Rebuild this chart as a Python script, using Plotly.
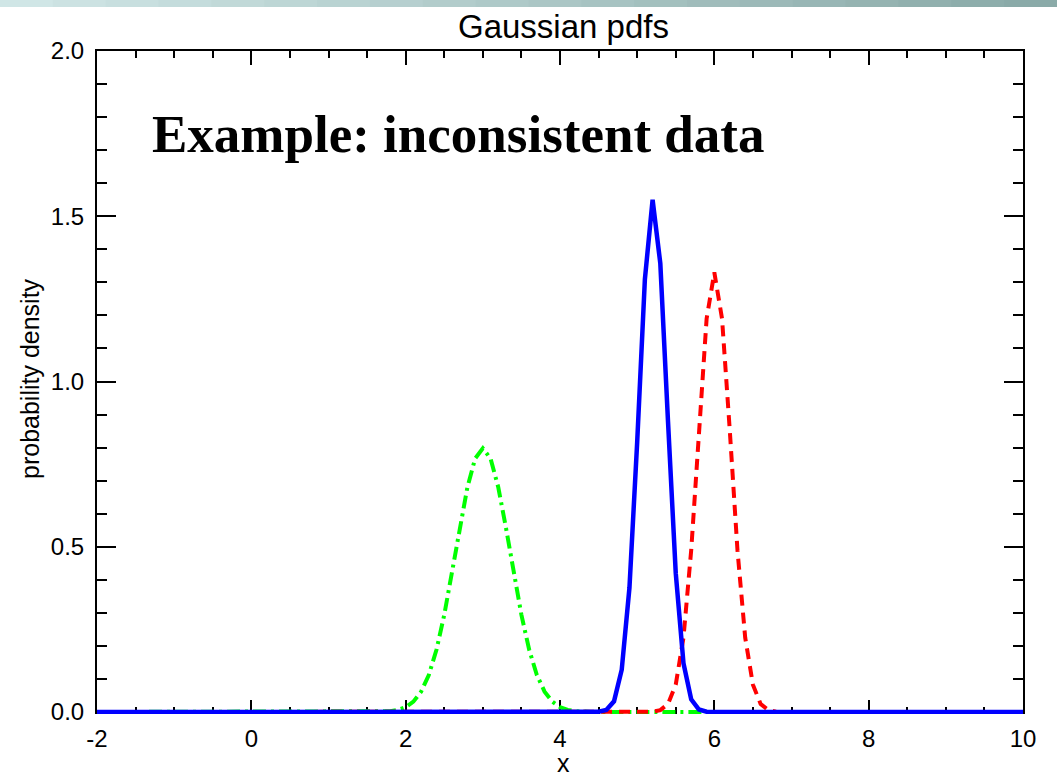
import plotly.graph_objects as go

# ---- data ----
green_x = [-2.0, 1.6, 1.7, 1.8, 1.9, 2.0, 2.1, 2.2, 2.3, 2.4, 2.5, 2.6, 2.7, 2.8, 2.9,
           3.0, 3.1, 3.2, 3.3, 3.4, 3.5, 3.6, 3.7, 3.8, 3.9, 4.0, 4.1, 4.2, 4.3, 4.4, 10.0]
green_y = [0.0, 0.0003, 0.0009, 0.0025, 0.0063, 0.0146, 0.0313, 0.0617, 0.112, 0.189, 0.294,
           0.421, 0.557, 0.680, 0.767, 0.798, 0.767, 0.680, 0.557, 0.421, 0.294, 0.189,
           0.112, 0.0617, 0.0313, 0.0146, 0.0063, 0.0025, 0.0009, 0.0003, 0.0]

red_x = [-2.0, 5.1, 5.2, 5.3, 5.4, 5.5, 5.6, 5.7, 5.8, 5.9, 6.0, 6.1, 6.2, 6.3, 6.4,
         6.5, 6.6, 6.7, 6.8, 6.9, 10.0]
red_y = [0.0, 0.0001, 0.0011, 0.0057, 0.0244, 0.0827, 0.225, 0.489, 0.853, 1.190, 1.330,
         1.190, 0.853, 0.489, 0.225, 0.0827, 0.0244, 0.0057, 0.0011, 0.0001, 0.0]

blue_x = [-2.0, 4.5, 4.6, 4.7, 4.8, 4.9, 5.0, 5.1, 5.2, 5.3, 5.4, 5.5, 5.6, 5.7, 5.8,
          5.9, 6.0, 10.0]
blue_y = [0.0, 0.0008, 0.0060, 0.0322, 0.128, 0.376, 0.816, 1.309, 1.550, 1.357, 0.878,
          0.420, 0.148, 0.0387, 0.0075, 0.0011, 0.0001, 0.0]

x_tick_vals = [-2, 0, 2, 4, 6, 8, 10]
x_tick_text = ["-2", "0", "2", "4", "6", "8", "10"]
y_tick_vals = [0.0, 0.5, 1.0, 1.5, 2.0]
y_tick_text = ["0.0", "0.5", "1.0", "1.5", "2.0"]

title_text = "Gaussian pdfs"
note_text = "Example: inconsistent data"
x_title = "x"
y_title = "probability density"

# ---- figure ----
W, H = 1057, 778
L, R, T, B = 97, 34, 51, 64
pw, ph = W - L - R, H - T - B

def px_x(p):
    return (p - L) / pw

def px_y(p):
    return (H - B - p) / ph

fig = go.Figure()
fig.add_trace(go.Scatter(x=green_x, y=green_y, mode="lines",
                         line=dict(color="#00ff00", width=4, dash="13px,5px,3px,5px")))
fig.add_trace(go.Scatter(x=red_x, y=red_y, mode="lines",
                         line=dict(color="#ff0000", width=4, dash="11px,7px")))
fig.add_trace(go.Scatter(x=blue_x, y=blue_y, mode="lines",
                         line=dict(color="#0000ff", width=4.5)))
# dummy empty trace for the top axis
fig.add_trace(go.Scatter(x=[], y=[], xaxis="x2", showlegend=False))

tick_font = dict(family="Liberation Sans", size=24, color="black")
minor_x = dict(dtick=0.5, ticks="inside", ticklen=7, tickwidth=2,
               tickcolor="black", showgrid=False)

fig.update_layout(
    width=W, height=H, autosize=False,
    margin=dict(l=L, r=R, t=T, b=B, pad=0, autoexpand=False),
    paper_bgcolor="white", plot_bgcolor="white",
    showlegend=False,
    font=dict(family="Liberation Sans", color="black"),
    xaxis=dict(range=[-2, 10], tickmode="array", tickvals=x_tick_vals,
               ticktext=x_tick_text, ticks="inside", ticklen=14,
               tickwidth=2, tickcolor="black", showline=False, showgrid=False,
               zeroline=False, tickfont=tick_font, ticklabelstandoff=8,
               layer="below traces", automargin=False, minor=minor_x),
    xaxis2=dict(range=[-2, 10], overlaying="x", side="top", tickmode="array",
                tickvals=x_tick_vals, ticks="inside", ticklen=14, tickwidth=2,
                tickcolor="black", showline=True, linewidth=2, linecolor="black",
                showgrid=False, zeroline=False, showticklabels=False,
                automargin=False, minor=minor_x),
    yaxis=dict(range=[-0.006, 2.0], tickmode="array", tickvals=y_tick_vals,
               ticktext=y_tick_text, ticks="inside", ticklen=19, tickwidth=2,
               tickcolor="black", showline=True, linewidth=2, linecolor="black",
               mirror="ticks", showgrid=False, zeroline=False, tickfont=tick_font,
               ticklabelstandoff=6, layer="below traces", automargin=False,
               minor=dict(dtick=0.1, ticks="inside", ticklen=10, tickwidth=2,
                          tickcolor="black", showgrid=False)),
)

# top slide gradient strip
c0 = (208, 230, 230)
c1 = (138, 170, 168)
n = 20
shapes = []
for i in range(n):
    f = i / (n - 1)
    col = "rgb(%d,%d,%d)" % tuple(int(a + (b - a) * f) for a, b in zip(c0, c1))
    shapes.append(dict(type="rect", xref="paper", yref="paper",
                       x0=px_x(W * i / n), x1=px_x(W * (i + 1) / n + 1),
                       y0=px_y(7), y1=px_y(0), line=dict(width=0), fillcolor=col))
fig.update_layout(shapes=shapes)

fig.add_annotation(text=title_text, xref="paper", yref="paper",
                   x=px_x(563), y=px_y(27), xanchor="center", yanchor="middle",
                   showarrow=False, font=dict(family="Liberation Sans", size=33, color="black"))
fig.add_annotation(text=note_text, xref="paper", yref="paper",
                   x=px_x(150), y=px_y(134), xanchor="left", yanchor="middle",
                   showarrow=False,
                   font=dict(family="Liberation Serif", size=53, color="black", weight="bold"))
fig.add_annotation(text=x_title, xref="paper", yref="paper",
                   x=px_x(563), y=px_y(763), xanchor="center", yanchor="middle",
                   showarrow=False, font=dict(family="Liberation Sans", size=25, color="black"))
fig.add_annotation(text=y_title, xref="paper", yref="paper",
                   x=px_x(30), y=px_y(379), xanchor="center", yanchor="middle",
                   textangle=-90, showarrow=False,
                   font=dict(family="Liberation Sans", size=25, color="black"))

fig.write_html("out.html", config={"displayModeBar": False},
               post_script="document.body.style.margin='0';document.body.style.overflow='hidden';")
